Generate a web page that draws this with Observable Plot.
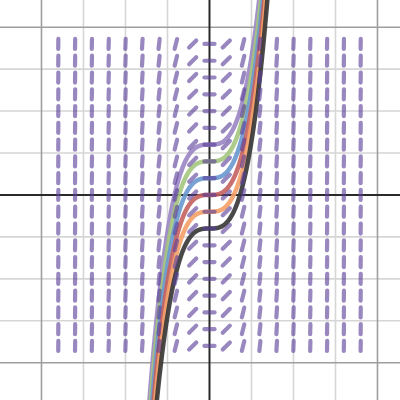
<!DOCTYPE html>
<html>
<head>
<meta charset="utf-8">
<script src="https://cdn.jsdelivr.net/npm/d3@7"></script>
<script src="https://cdn.jsdelivr.net/npm/@observablehq/plot@0.6"></script>
<style>
  html, body { margin: 0; padding: 0; background: #fff; }
  #chart svg { display: block; }
</style>
</head>
<body>
<div id="chart"></div>
<script>
// Slope field grid (integer lattice points)
const fieldX = [-9,-8,-7,-6,-5,-4,-3,-2,-1,0,1,2,3,4,5,6,7,8,9];
const fieldY = [-9,-8,-7,-6,-5,-4,-3,-2,-1,0,1,2,3,4,5,6,7,8,9];
// Solution curves y = x^3/3 + C of dy/dx = x^2
const curveC = [3, 2, 1, 0, -1, -2];
const curveColors = ["#9a85c4", "#a4c57d", "#6a98cf", "#c4605e", "#f4a068", "#353535"];
// Grid lines
const minorGrid = [-7.5, -5, -2.5, 2.5, 5, 7.5];
const majorGrid = [-10, 10];

const slope = x => x * x;           // dy/dx
const solution = (x, c) => x * x * x / 3 + c;

// Build dash segments
const halfLen = 0.3;
const dashes = [];
for (const x of fieldX) for (const y of fieldY) {
  const th = Math.atan(slope(x));
  const dx = halfLen * Math.cos(th), dy = halfLen * Math.sin(th);
  dashes.push({x1: x - dx, y1: y - dy, x2: x + dx, y2: y + dy});
}

// Curve samples
const curvePts = [];
curveC.forEach((c, i) => {
  for (let k = 0; k <= 400; k++) {
    const x = -4 + k * 0.02;
    curvePts.push({x, y: solution(x, c), c, color: curveColors[i]});
  }
});

const chart = Plot.plot({
  width: 400,
  height: 400,
  margin: 0,
  x: {domain: [-12.44, 11.37], axis: null},
  y: {domain: [-12.25, 11.59], axis: null},
  marks: [
    Plot.ruleX(minorGrid, {stroke: "#d6d6d6", strokeWidth: 1.6}),
    Plot.ruleY(minorGrid, {stroke: "#d6d6d6", strokeWidth: 1.6}),
    Plot.ruleX(majorGrid, {stroke: "#9e9e9e", strokeWidth: 1.6}),
    Plot.ruleY(majorGrid, {stroke: "#9e9e9e", strokeWidth: 1.6}),
    Plot.ruleX([0], {stroke: "#2a2a2a", strokeWidth: 2}),
    Plot.ruleY([0], {stroke: "#2a2a2a", strokeWidth: 2}),
    ...curveC.map((c, i) => Plot.line(curvePts.filter(d => d.c === c), {
      x: "x", y: "y", stroke: curveColors[i], strokeWidth: 4.5, strokeOpacity: 0.9, clip: true
    })),
    Plot.link(dashes, {
      x1: "x1", y1: "y1", x2: "x2", y2: "y2",
      stroke: "#5a3f98", strokeOpacity: 0.62, strokeWidth: 4.2, strokeLinecap: "round"
    })
  ]
});
document.getElementById("chart").appendChild(chart);
</script>
</body>
</html>
